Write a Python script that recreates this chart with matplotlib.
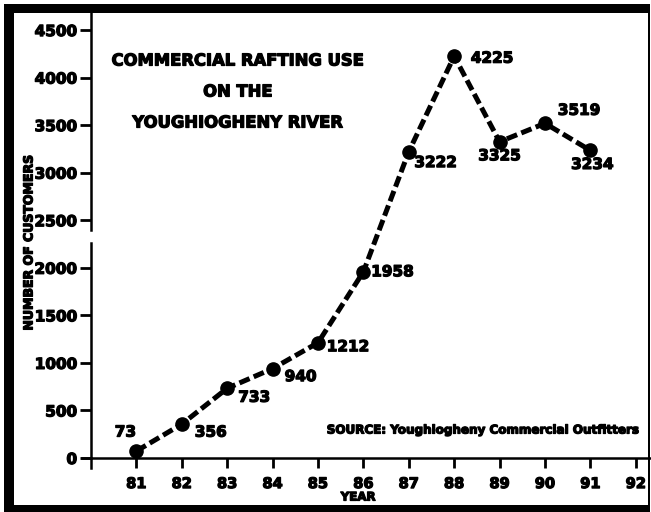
import matplotlib
matplotlib.use('Agg')
import matplotlib.pyplot as plt
import matplotlib.patheffects as pe
from matplotlib.patches import Rectangle

years = [81, 82, 83, 84, 85, 86, 87, 88, 89, 90, 91]
customers = [73, 356, 733, 940, 1212, 1958, 3222, 4225, 3325, 3519, 3234]
# label offsets in pixels (dx, dy up) from each point
label_off = [(-11, 19), (29, -8), (27, -9), (28, -8), (30, -4), (29, 0),
             (27, -11), (38, -2), (0, -14), (34, 13), (2, -14)]
xtick_years = list(range(81, 93))
ytick_vals = [0, 500, 1000, 1500, 2000, 2500, 3000, 3500, 4000, 4500]
title_lines = ['COMMERCIAL RAFTING USE', 'ON THE', 'YOUGHIOGHENY RIVER']
source_text = 'SOURCE: Youghiogheny Commercial Outfitters'

W, H = 651, 512
plt.rcParams['font.family'] = ['DejaVu Sans']
plt.rcParams['font.weight'] = 'bold'
heavy = [pe.withStroke(linewidth=0.9, foreground='black')]

fig = plt.figure(figsize=(W / 100, H / 100), dpi=100)
fig.patch.set_facecolor('white')

# axes placed in pixel terms
x0, x1, y0, y1 = 91, 650, 458, 13
ax = fig.add_axes([x0 / W, (H - y0) / H, (x1 - x0) / W, (y0 - y1) / H])
ax.set_xlim(80, 80 + (x1 - x0) / 45.4)
ax.set_ylim(0, (y0 - y1) / 0.0951)

for s in ['top', 'right', 'left']:
    ax.spines[s].set_visible(False)
ax.spines['bottom'].set_linewidth(1.8)

# broken y axis drawn by hand
ytr = ax.get_yaxis_transform()
ax.plot([0, 0], [-110, 2261], color='black', lw=1.8, transform=ytr, clip_on=False)
ax.plot([0, 0], [2397, 4680], color='black', lw=1.8, transform=ytr, clip_on=False)
xtr = ax.get_xaxis_transform()
ax.plot([79.8, 80], [0, 0], color='black', lw=1.8, transform=xtr, clip_on=False)

ax.set_xticks(xtick_years)
ax.set_xticklabels([str(y) for y in xtick_years])
ax.set_yticks(ytick_vals)
ax.set_yticklabels([str(v) for v in ytick_vals])
ax.tick_params(axis='x', direction='out', length=7, width=2, pad=6, labelsize=10.5)
ax.tick_params(axis='y', direction='out', length=8, width=2, pad=2, labelsize=11)
for lab in ax.get_xticklabels() + ax.get_yticklabels():
    lab.set_fontweight('bold')
    lab.set_path_effects(heavy)

line, = ax.plot(years, customers, color='black', lw=3.6, marker='o', ms=9.5,
                clip_on=False, zorder=3)
line.set_dashes((2.2, 0.9))

for yr, v, (dx, dy) in zip(years, customers, label_off):
    ax.annotate(str(v), (yr, v), xytext=(dx * 0.72, dy * 0.72),
                textcoords='offset points', ha='center', va='center',
                fontsize=11, fontweight='bold', path_effects=heavy)

for i, t in enumerate(title_lines):
    fig.text(238 / W, 1 - (61 + 31 * i) / H, t, ha='center', va='center',
             fontsize=11.8, fontweight='bold', path_effects=heavy)

fig.text(482 / W, 1 - 430 / H, source_text, ha='center', va='center',
         fontsize=8.6, fontweight='bold', path_effects=heavy)
fig.text(358 / W, 1 - 497 / H, 'YEAR', ha='center', va='center',
         fontsize=8.5, fontweight='bold', path_effects=heavy)
fig.text(29 / W, 1 - 243 / H, 'NUMBER OF CUSTOMERS', ha='center', va='center',
         rotation=90, fontsize=9, fontweight='bold', path_effects=heavy)

# thick scanned frame
for (px, py, pw, ph) in [(4, 4, 10, 508), (4, 4, 646, 9), (4, 505, 646, 7), (648, 4, 2, 508)]:
    fig.patches.append(Rectangle((px / W, 1 - (py + ph) / H), pw / W, ph / H,
                                 transform=fig.transFigure, color='black', lw=0))

fig.savefig('out.png', dpi=100)
